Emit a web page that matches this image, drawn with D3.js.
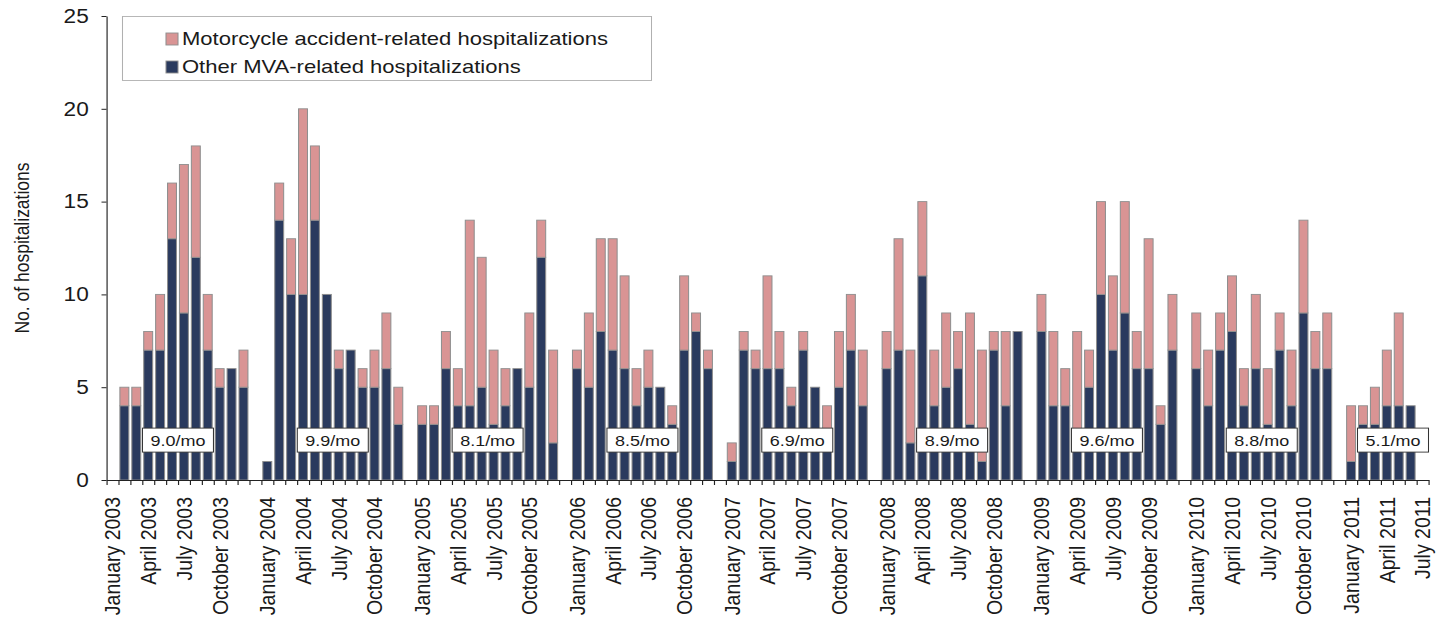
<!DOCTYPE html>
<html>
<head>
<meta charset="utf-8">
<script src="https://cdn.jsdelivr.net/npm/d3@7"></script>
<style>
  body { margin: 0; background: #fff; }
  svg { display: block; font-family: "Liberation Sans", Arial, sans-serif; }
</style>
</head>
<body>
<script>
// 数据：每年12个月（2011年只有1-6月）
const years = [2003, 2004, 2005, 2006, 2007, 2008, 2009, 2010, 2011]
const monthNames = ['January', 'February', 'March', 'April', 'May', 'June',
  'July', 'August', 'September', 'October', 'November', 'December']
const labelMonths = ['January', 'April', 'July', 'October']

// 其他机动车事故住院（深蓝）
const otherMVA = [
  [0, 4, 4, 7, 7, 13, 9, 12, 7, 5, 6, 5],
  [1, 14, 10, 10, 14, 10, 6, 7, 5, 5, 6, 3],
  [3, 3, 6, 4, 4, 5, 3, 4, 6, 5, 12, 2],
  [6, 5, 8, 7, 6, 4, 5, 5, 3, 7, 8, 6],
  [1, 7, 6, 6, 6, 4, 7, 5, 2, 5, 7, 4],
  [6, 7, 2, 11, 4, 5, 6, 3, 1, 7, 4, 8],
  [8, 4, 4, 2, 5, 10, 7, 9, 6, 6, 3, 7],
  [6, 4, 7, 8, 4, 6, 3, 7, 4, 9, 6, 6],
  [1, 3, 3, 4, 4, 4]
]
// 摩托车事故住院（粉色）
const motorcycle = [
  [0, 1, 1, 1, 3, 3, 8, 6, 3, 1, 0, 2],
  [0, 2, 3, 10, 4, 0, 1, 0, 1, 2, 3, 2],
  [1, 1, 2, 2, 10, 7, 4, 2, 0, 4, 2, 5],
  [1, 4, 5, 6, 5, 2, 2, 0, 1, 4, 1, 1],
  [1, 1, 1, 5, 2, 1, 1, 0, 2, 3, 3, 3],
  [2, 6, 5, 4, 3, 4, 2, 6, 6, 1, 4, 0],
  [2, 4, 2, 6, 2, 5, 4, 6, 2, 7, 1, 3],
  [3, 3, 2, 3, 2, 4, 3, 2, 3, 5, 2, 3],
  [3, 1, 2, 3, 5, 0]
]
const rates = ['9.0/mo', '9.9/mo', '8.1/mo', '8.5/mo', '6.9/mo', '8.9/mo', '9.6/mo', '8.8/mo', '5.1/mo']
const yTicks = [0, 5, 10, 15, 20, 25]
const legendLabels = ['Motorcycle accident-related hospitalizations', 'Other MVA-related hospitalizations']

const W = 1445, H = 625
const SX = 1.16 // 原图横向拉伸
const colors = { moto: '#d99494', other: '#2a3a5e', edge: '#8f8f8f' }

// 组装分类：每年后留一个空位
const slots = []
const yearStart = []
years.forEach((yr, yi) => {
  yearStart.push(slots.length)
  const n = yi === years.length - 1 ? otherMVA[yi].length + 1 : 12
  for (let m = 0; m < n; m++) {
    slots.push({
      key: monthNames[m] + ' ' + yr,
      month: monthNames[m],
      other: otherMVA[yi][m] || 0,
      moto: motorcycle[yi][m] || 0
    })
  }
  if (yi < years.length - 1) slots.push({ key: 'gap' + yr, month: null, other: 0, moto: 0 })
})

const svg = d3.select('body').append('svg')
  .attr('width', W)
  .attr('height', H)

const g = svg.append('g').attr('transform', `scale(${SX},1)`)

const x0 = 106.5 / SX, x1 = 1428.5 / SX
const x = d3.scaleBand()
  .domain(slots.map(d => d.key))
  .range([x0, x1])
  .paddingInner(0.25)
  .paddingOuter(0.125)
const pos = d3.scaleLinear()
  .domain([0, slots.length])
  .range([x0, x1])
const y = d3.scaleLinear()
  .domain([0, 25])
  .range([480, 16])

// 堆叠柱
const series = d3.stack().keys(['other', 'moto'])(slots)
g.selectAll('g.series')
  .data(series)
  .join('g')
  .attr('class', 'series')
  .attr('fill', d => colors[d.key])
  .selectAll('rect')
  .data(d => d.filter(s => s[1] > s[0]))
  .join('rect')
  .attr('x', d => x(d.data.key))
  .attr('width', x.bandwidth())
  .attr('y', d => y(d[1]))
  .attr('height', d => y(d[0]) - y(d[1]))
  .attr('stroke', colors.edge)
  .attr('stroke-width', 0.9)

// x轴刻度（每个分类之间）
g.append('g')
  .attr('transform', `translate(0,${y(0)})`)
  .call(d3.axisBottom(pos)
    .tickValues(d3.range(0, slots.length + 1))
    .tickFormat('')
    .tickSize(5)
    .tickSizeOuter(0))
  .call(s => s.selectAll('line, path').attr('stroke', '#222'))

// x轴标签
const xLab = g.append('g')
  .attr('transform', `translate(0,${y(0)})`)
  .call(d3.axisBottom(x)
    .tickValues(slots.filter(d => labelMonths.includes(d.month)).map(d => d.key))
    .tickSize(0))
xLab.select('.domain').remove()
xLab.selectAll('text')
  .attr('transform', 'rotate(-90)')
  .attr('text-anchor', 'end')
  .attr('x', -17)
  .attr('y', 0)
  .attr('dy', '0.35em')
  .attr('font-size', 19.5)
  .attr('font-family', '"Liberation Sans", Arial, sans-serif')
  .attr('fill', '#1a1a1a')

// y轴
const yAxis = g.append('g')
  .attr('transform', `translate(${x0},0)`)
  .call(d3.axisLeft(y)
    .tickValues(yTicks)
    .tickSize(5 / SX)
    .tickPadding(11)
    .tickSizeOuter(0))
yAxis.selectAll('line, path').attr('stroke', '#222')
yAxis.selectAll('text')
  .attr('font-size', 19.5)
  .attr('font-family', '"Liberation Sans", Arial, sans-serif')
  .attr('fill', '#1a1a1a')

g.append('text')
  .attr('transform', `translate(${22 / SX},248) rotate(-90)`)
  .attr('text-anchor', 'middle')
  .attr('dy', '0.35em')
  .attr('font-size', 17.5)
  .attr('fill', '#1a1a1a')
  .text('No. of hospitalizations')

// 每年平均值标签
const boxW = 71 / SX, boxH = 24
const rateG = g.selectAll('g.rate')
  .data(rates)
  .join('g')
  .attr('class', 'rate')
  .attr('transform', (d, i) => {
    const cx = Math.min(pos(yearStart[i] + 6), x1 - boxW / 2)
    return `translate(${cx},${y(2.15)})`
  })
rateG.append('rect')
  .attr('x', -boxW / 2)
  .attr('y', -boxH / 2)
  .attr('width', boxW)
  .attr('height', boxH)
  .attr('fill', '#fff')
  .attr('stroke', '#333')
  .attr('stroke-width', 0.9)
rateG.append('text')
  .attr('text-anchor', 'middle')
  .attr('dy', '0.36em')
  .attr('font-size', 15.5)
  .attr('fill', '#1a1a1a')
  .text(d => d)

// 图例
const legend = g.append('g')
legend.append('rect')
  .attr('x', 122.5 / SX)
  .attr('y', 16.5)
  .attr('width', 529 / SX)
  .attr('height', 64)
  .attr('fill', '#fff')
  .attr('stroke', '#b0b0b0')
  .attr('stroke-width', 0.9)
const legItems = legend.selectAll('g.item')
  .data(legendLabels)
  .join('g')
  .attr('class', 'item')
  .attr('transform', (d, i) => `translate(${166 / SX},${33 + i * 28})`)
legItems.append('rect')
  .attr('width', 12 / SX)
  .attr('height', 12)
  .attr('fill', (d, i) => i === 0 ? colors.moto : colors.other)
  .attr('stroke', colors.edge)
  .attr('stroke-width', 0.9)
legItems.append('text')
  .attr('x', 16 / SX)
  .attr('y', 12)
  .attr('font-size', 19)
  .attr('fill', '#1a1a1a')
  .text(d => d)
</script>
</body>
</html>
